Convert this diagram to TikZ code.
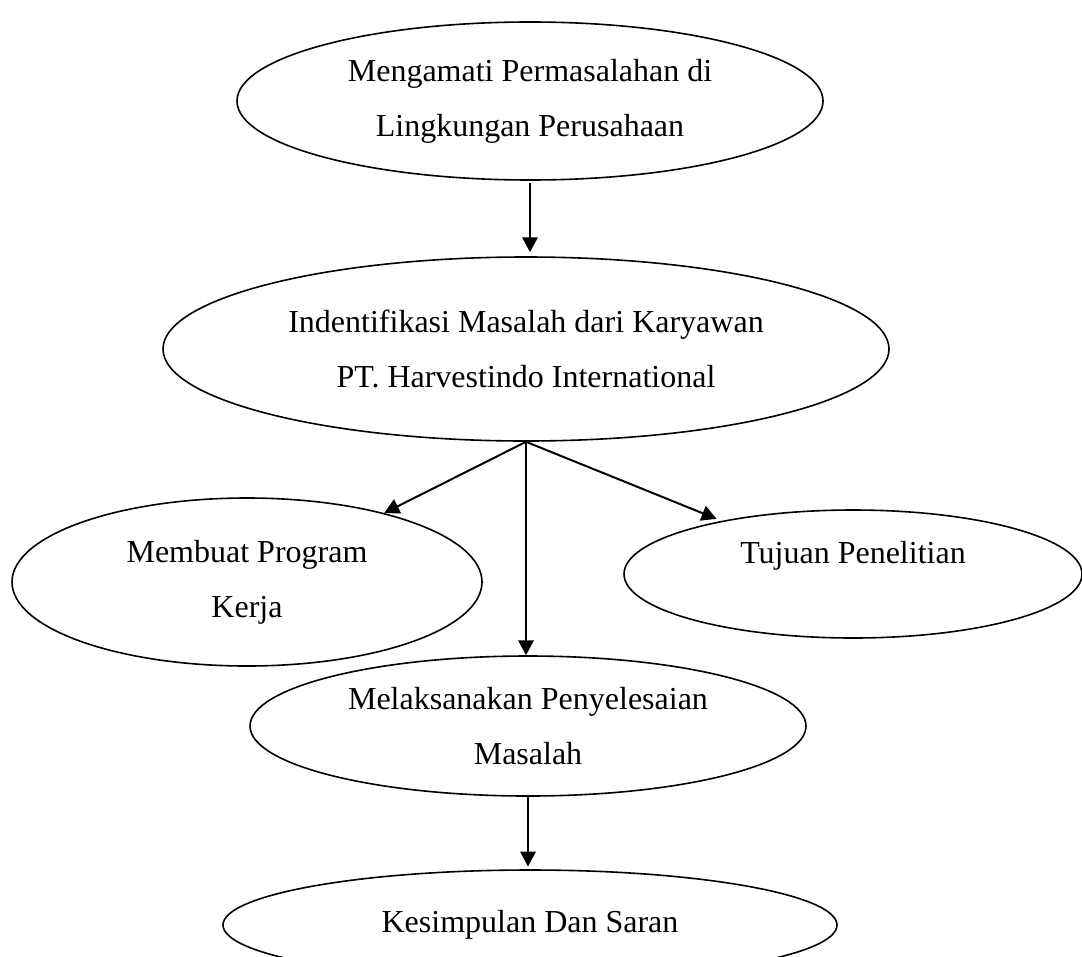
\documentclass[tikz,border=0pt]{standalone}
\usepackage{fontspec}
\setmainfont{Liberation Serif}
\usetikzlibrary{shapes.geometric,arrows.meta}
\tikzset{basic/.style={draw,fill=none,line width=0.6pt,
                       text badly centered,align=center,
                       font=\fontsize{12}{20.6}\selectfont}}
\tikzset{bubble/.style 2 args={basic,ellipse,inner sep=0pt,
                       minimum width=#1*0.375pt,minimum height=#2*0.375pt}}
\tikzset{flow/.style={line width=0.75pt,
                      -{Triangle[length=5.6pt,width=5.8pt]}}}

\begin{document}
\begin{tikzpicture}[x=0.375pt,y=-0.375pt]
    \useasboundingbox (0,0) rectangle (1082,956);
    % Draw the steps
    \node[bubble={586}{158}] (amati) at (530,101)
        {Mengamati Permasalahan di\\Lingkungan Perusahaan};
    \node[bubble={726}{184}] (identifikasi) at (526,349)
        {Indentifikasi Masalah dari Karyawan\\PT. Harvestindo International};
    \node[bubble={470}{168}] (program) at (247,582)
        {Membuat Program\\Kerja};
    \node[bubble={458}{128},text depth=16pt] (tujuan) at (853,574)
        {Tujuan Penelitian};
    \node[bubble={556}{140}] (laksana) at (528,726)
        {Melaksanakan Penyelesaian\\Masalah};
    \node[bubble={614}{110}] (simpulan) at (530,925)
        {Kesimpulan Dan Saran};
    % Draw edges between the steps
    \draw[flow,shorten <=1pt,shorten >=1.5pt] (amati.south)
        -- (amati.south |- identifikasi.north);
    \draw[flow] (identifikasi.south) -- (program);
    \draw[flow,shorten >=2pt] (identifikasi.south) -- (tujuan);
    \draw[flow] (identifikasi.south) -- (identifikasi.south |- laksana.north);
    \draw[flow,shorten >=1pt] (laksana.south) -- (laksana.south |- simpulan.north);
\end{tikzpicture}
\end{document}
